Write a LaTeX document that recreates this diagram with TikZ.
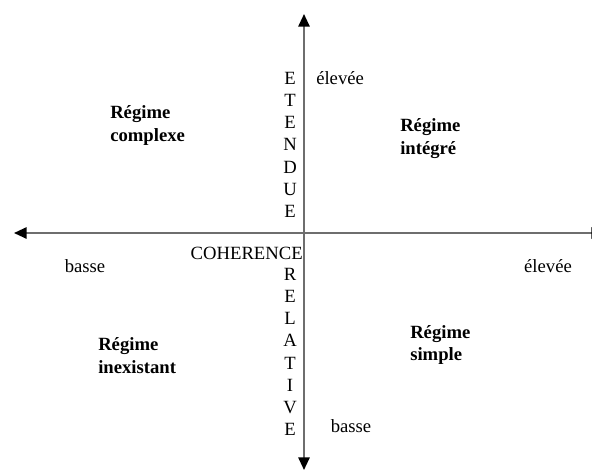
\documentclass[tikz,border=0pt]{standalone}
\usepackage{fontspec}
\setmainfont{Liberation Serif}
\usetikzlibrary{arrows.meta}

\begin{document}
\begin{tikzpicture}[x=0.75pt,y=-0.75pt,
		every node/.style={font=\fontsize{14}{16.7}\selectfont,inner sep=0pt},
		axe/.style={draw={rgb,255:red,110;green,110;blue,110},line width=1.4pt,
			-{Triangle[length=9.5pt,width=8.5pt,color=black]}},
		regime/.style={font=\fontsize{14}{17.2}\selectfont\bfseries,align=left,anchor=west},
		lettres/.style={align=center,anchor=north}]
		\useasboundingbox (0,0) rectangle (592,471);
		\clip (0,0) rectangle (592,471);
		% axes
		\coordinate (O) at (304,233);
		\coordinate (W) at (14,233);
		\coordinate (E) at (604,233);
		\coordinate (N) at (304,14);
		\coordinate (S) at (304,470);
		\path
		(O) edge[axe] (W)
		(O) edge[axe] (E)
		(O) edge[axe] (N)
		(O) edge[axe] (S);
		%
		\node[lettres] (etendue) at (290,71.6) {E\\T\\E\\N\\D\\U\\E};
		\node[anchor=base east] (coherence) at (303,259) {COHERENCE};
		\node[lettres] (relative) at (290,267.6) {R\\E\\L\\A\\T\\I\\V\\E};
		% graduations
		\node[anchor=base west] (haute) at (316,84) {élevée};
		\node[anchor=base] (bassebas) at (351,432) {basse};
		\node[anchor=base] (bassegauche) at (85,272) {basse};
		\node[anchor=base] (droite) at (548,272) {élevée};
		% regimes
		\node[regime] (complexe) at (110,125.5) {Régime\\complexe};
		\node[regime] (integre) at (400,139) {Régime\\intégré};
		\node[regime] (inexistant) at (98,356) {Régime\\inexistant};
		\node[regime] (simple) at (410,345) {Régime\\simple};
\end{tikzpicture}
\end{document}
